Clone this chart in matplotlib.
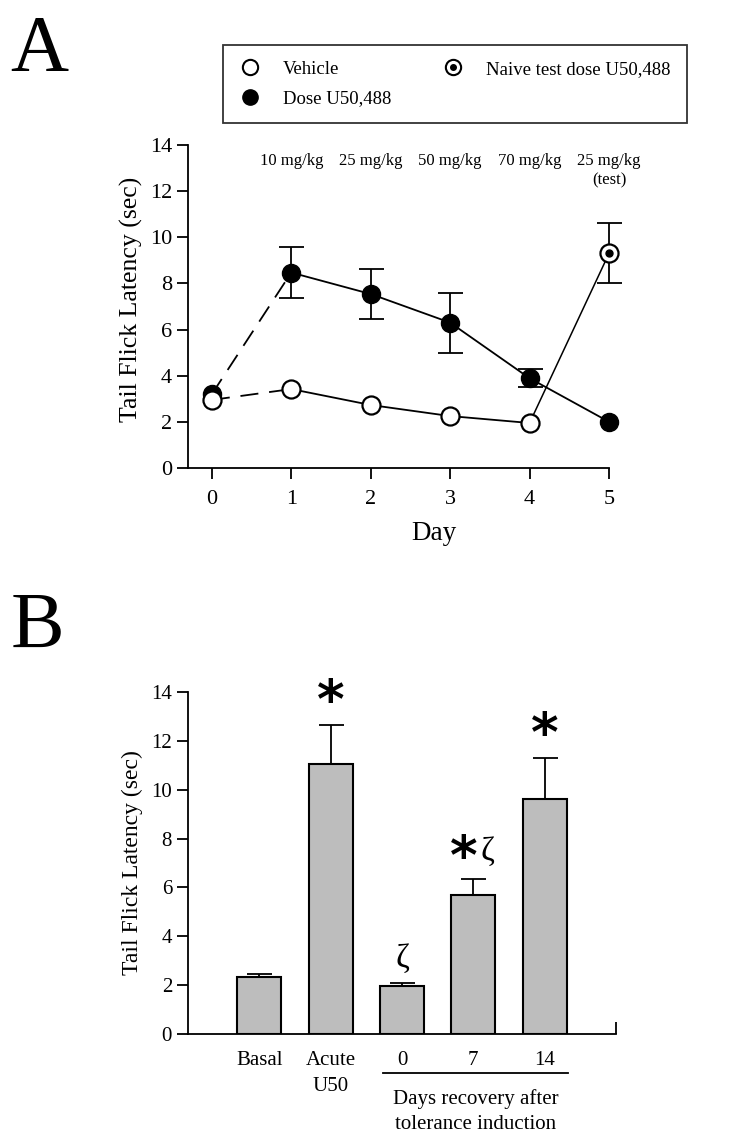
import matplotlib.pyplot as plt
from matplotlib.lines import Line2D

plt.rcParams['font.family'] = ['Liberation Serif', 'DejaVu Serif']

# panel A data
days = [0, 1, 2, 3, 4, 5]
vehicle = [2.95, 3.42, 2.73, 2.25, 1.95]
dose = [3.2, 8.47, 7.54, 6.3, 3.89, 2.0]
dose_err = [0.0, 1.1, 1.07, 1.3, 0.4, 0.0]
naive = 9.3
naive_err = 1.3
dose_labels = ['10 mg/kg', '25 mg/kg', '50 mg/kg', '70 mg/kg', '25 mg/kg\n(test)']

# panel B data
groups = ['Basal', 'Acute\nU50', '0', '7', '14']
latency = [2.32, 11.05, 1.97, 5.7, 9.63]
latency_err = [0.14, 1.6, 0.13, 0.64, 1.65]
marks = ['', '*', '', '*', '*']
zetas = ['', '', 'ζ', 'ζ', '']

fig = plt.figure(figsize=(7.29, 11.47), dpi=100)

# ---------------- panel A ----------------
ax = fig.add_axes([0.2579, 0.5920, 0.5775, 0.2816])
ms = 13
# dose line: dashed first segment, then solid
ax.plot(days[:2], dose[:2], color='k', lw=1.3, dashes=(10, 6))
ax.plot(days[1:], dose[1:], color='k', lw=1.3)
ax.errorbar(days[1:5], dose[1:5], yerr=dose_err[1:5], fmt='none', ecolor='k',
            elinewidth=1.3, capsize=9, capthick=1.3)
ax.plot(days, dose, 'o', color='k', ms=ms, zorder=3)
# vehicle
ax.plot(days[:2], vehicle[:2], color='k', lw=1.3, dashes=(10, 6))
ax.plot(days[1:5], vehicle[1:5], color='k', lw=1.3)
ax.plot(days[:5], vehicle, 'o', mfc='white', mec='k', mew=1.6, ms=ms, zorder=4)
# naive test dose
ax.plot([days[4], days[5]], [vehicle[4], naive], color='k', lw=1.1, zorder=2)
ax.errorbar([days[5]], [naive], yerr=[naive_err], fmt='none', ecolor='k',
            elinewidth=1.3, capsize=9, capthick=1.3)
ax.plot([days[5]], [naive], 'o', mfc='white', mec='k', mew=1.6, ms=ms, zorder=4)
ax.plot([days[5]], [naive], 'o', color='k', ms=5, zorder=5)
for art in ax.lines + ax.collections:
    art.set_clip_on(False)

for d, lab in zip(days[1:], dose_labels):
    ax.text(d, 13.65, lab, ha='center', va='top', fontsize=12, linespacing=1.3)

ax.set_xlim(-0.3, 5)
ax.set_ylim(0, 14)
ax.set_xticks(days)
ax.set_yticks(range(0, 15, 2))
ax.spines['top'].set_visible(False)
ax.spines['right'].set_visible(False)
for s in ['left', 'bottom']:
    ax.spines[s].set_linewidth(1.3)
ax.tick_params(axis='both', direction='out', length=8, width=1.3, labelsize=16)
ax.tick_params(axis='x', pad=8)
ax.set_xlabel('Day', fontsize=19.5)
ax.xaxis.set_label_coords(0.585, -0.165)
ax.set_ylabel('Tail Flick Latency (sec)', fontsize=18.5)
ax.yaxis.set_label_coords(-0.107, 0.523)

h_veh = Line2D([], [], ls='none', marker='o', mfc='white', mec='k', mew=1.5, ms=11)
h_dose = Line2D([], [], ls='none', marker='o', color='k', ms=11)
h_nv1 = Line2D([], [], ls='none', marker='o', mfc='white', mec='k', mew=1.5, ms=11)
h_nv2 = Line2D([], [], ls='none', marker='o', color='k', ms=4)
leg = fig.legend([h_veh, h_dose, (h_nv1, h_nv2)],
                 ['Vehicle', 'Dose U50,488', 'Naive test dose U50,488'],
                 ncol=2, loc='upper left', bbox_to_anchor=(0.306, 0.961),
                 fontsize=13.5, frameon=True, fancybox=False, edgecolor='k',
                 handletextpad=1.15, columnspacing=2.7, borderpad=0.85,
                 borderaxespad=0, labelspacing=0.65, handlelength=1.2)
leg.get_frame().set_linewidth(1.3)

fig.text(0.014, 0.987, 'A', fontsize=58, va='top', ha='left')

# ---------------- panel B ----------------
bx = fig.add_axes([0.2579, 0.0985, 0.5871, 0.2982])
pos = list(range(len(groups)))
bx.bar(pos, latency, width=0.62, color='#bdbdbd', edgecolor='k', linewidth=1.5,
       zorder=2)
bx.errorbar(pos, latency, yerr=[[0] * len(pos), latency_err], fmt='none',
            ecolor='k', elinewidth=1.3, capsize=9, capthick=1.3, zorder=1)
for p, v, e, m, z in zip(pos, latency, latency_err, marks, zetas):
    top = v + e
    if m and z:
        bx.text(p - 0.13, top + 0.2, m, ha='center', va='baseline', fontsize=38,
                fontfamily='DejaVu Sans', fontweight='bold')
        bx.text(p + 0.2, top + 1.12, z, ha='center', va='center', fontsize=24)
    elif m:
        bx.text(p, top + 0.3, m, ha='center', va='baseline', fontsize=38,
                fontfamily='DejaVu Sans', fontweight='bold')
    elif z:
        bx.text(p, top + 1.0, z, ha='center', va='center', fontsize=24)

bx.set_xlim(-1, 5)
bx.set_ylim(0, 14)
bx.set_yticks(range(0, 15, 2))
bx.set_xticks(pos)
bx.set_xticklabels(groups, fontsize=15, linespacing=1.55, va='top')
bx.set_xticks([5], minor=True)
bx.tick_params(axis='x', which='major', length=0, pad=12)
bx.tick_params(axis='x', which='minor', direction='in', length=9, width=1.3)
bx.tick_params(axis='y', direction='out', length=8, width=1.3, labelsize=15)
bx.spines['top'].set_visible(False)
bx.spines['right'].set_visible(False)
for s in ['left', 'bottom']:
    bx.spines[s].set_linewidth(1.3)
bx.set_ylabel('Tail Flick Latency (sec)', fontsize=17)
bx.yaxis.set_label_coords(-0.105, 0.5)

bx.plot([1.74, 4.33], [-1.6, -1.6], color='k', lw=1.3, clip_on=False)
bx.text(3.03, -2.25, 'Days recovery after\ntolerance induction', ha='center',
        va='top', fontsize=15, linespacing=1.45)

fig.text(0.014, 0.484, 'B', fontsize=58, va='top', ha='left')

fig.savefig('out.png', dpi=100)
